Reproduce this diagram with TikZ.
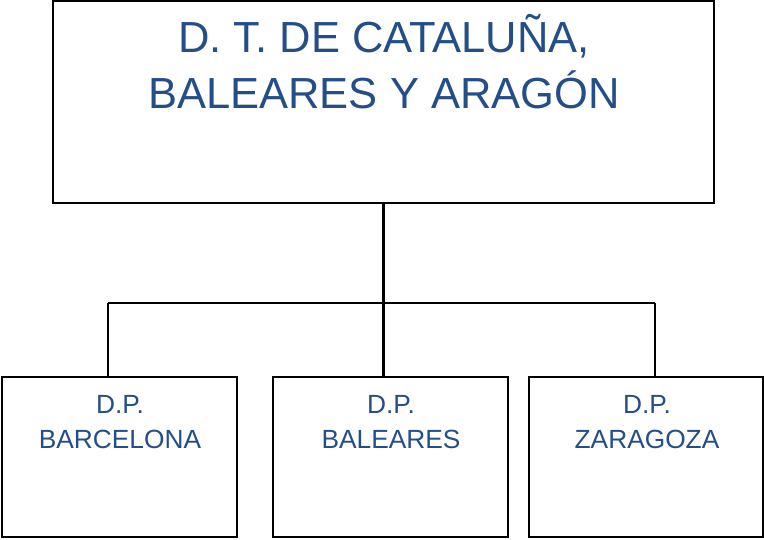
\documentclass[tikz,border=0pt]{standalone}
\usepackage{fontspec}
\setmainfont{Liberation Sans}
\usepackage{xcolor}
\usepackage{tikz}
\usetikzlibrary{calc}
\definecolor{dtblue}{RGB}{36,78,135}
\newcommand{\bigtxt}{\fontsize{43.5}{56}\selectfont}
\newcommand{\smalltxt}{\fontsize{26.3}{35}\selectfont}

\begin{document}
\begin{tikzpicture}[x=1pt,y=-1pt,
  link/.style={draw=black,line width=2.2pt},
  box/.style={draw=black,rectangle,inner sep=0pt,line width=2.2pt},
  unit/.style={box,minimum width=235pt,minimum height=160pt},
  txt/.style={draw=none,text=dtblue,align=center,anchor=base,inner sep=0pt}]

\useasboundingbox (0,0) rectangle (764,539);

\draw node[box,minimum width=661pt,minimum height=202pt] at (383.5,102) (dt) {};
\draw node[txt,font=\bigtxt] at (384,108) (dttext) {D. T. DE CATALUÑA,\\BALEARES Y ARAGÓN};

\draw node[unit] at (119.5,457) (bcn) {};
\draw node[unit] at (390.5,457) (bal) {};
\draw node[unit,minimum width=234pt] at (646,457) (zar) {};

\draw node[txt,font=\smalltxt] at (120,448) (bcntext) {D.P.\\BARCELONA};
\draw node[txt,font=\smalltxt] at (391,448) (baltext) {D.P.\\BALEARES};
\draw node[txt,font=\smalltxt] at (647,448) (zartext) {D.P.\\ZARAGOZA};

\coordinate (barL) at (108,303);
\coordinate (barR) at (655,303);

\draw[link] (dt.south) -- (dt.south |- bal.north);
\draw[link] (barL) -- (barR);
\draw[link] (barL) -- (barL |- bcn.north);
\draw[link] (barR) -- (barR |- zar.north);

\end{tikzpicture}
\end{document}
